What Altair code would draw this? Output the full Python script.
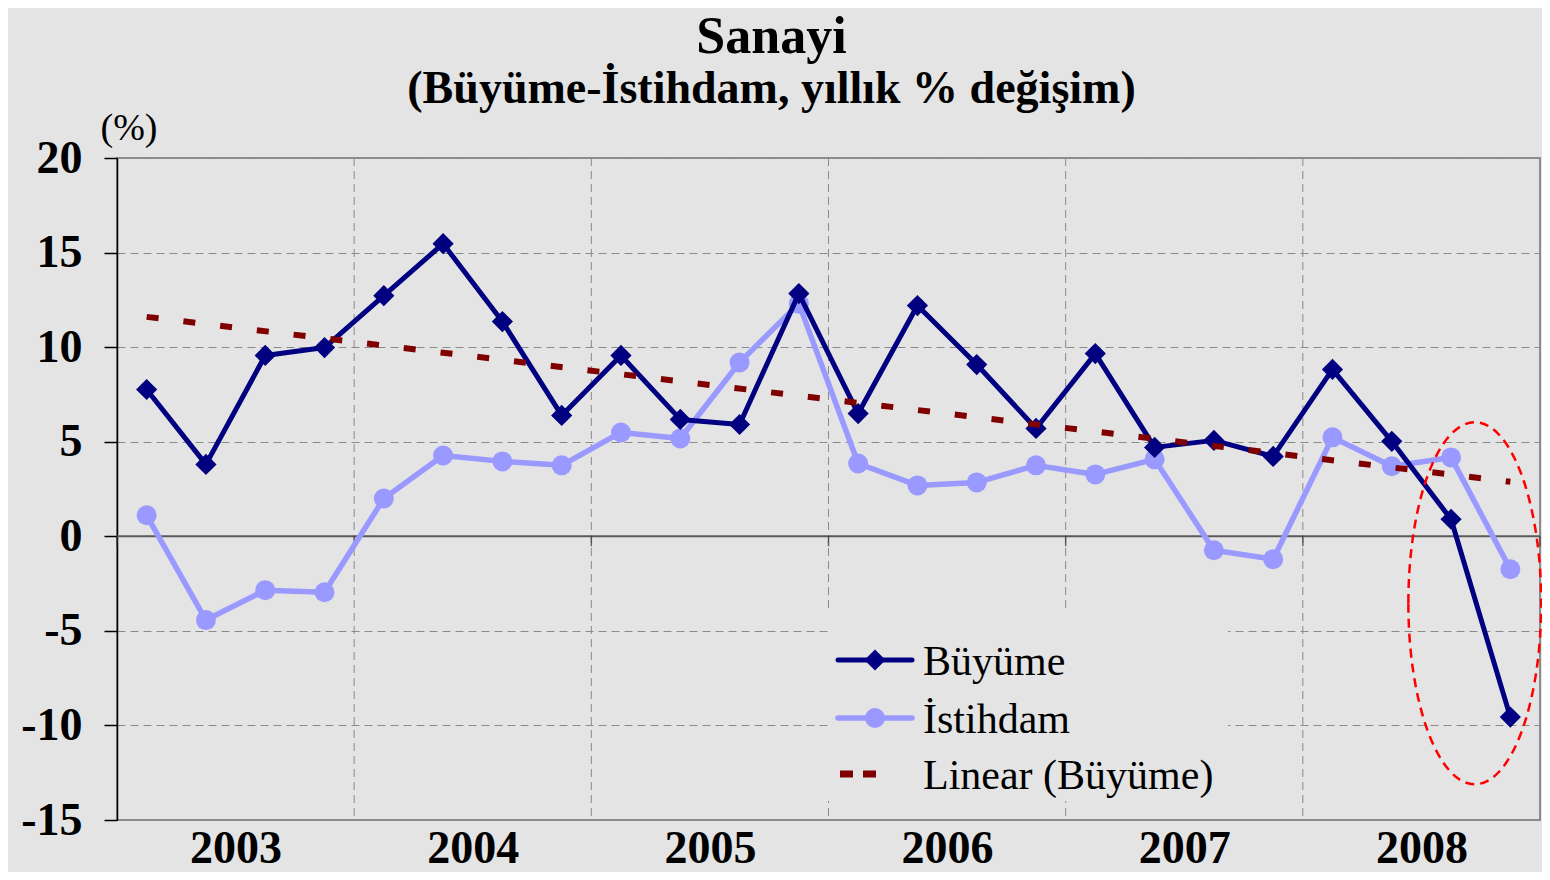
import altair as alt
import pandas as pd

# ---- data ----
quarters = list(range(1, 25))  # 2003Q1 .. 2008Q4
buyume = [7.76, 3.8, 9.56, 9.98, 12.72, 15.47, 11.35, 6.39, 9.56, 6.18, 5.91, 12.83,
          6.49, 12.2, 9.08, 5.7, 9.66, 4.7, 5.07, 4.22, 8.82, 5.02, 0.9, -9.56]
istihdam = [1.11, -4.43, -2.85, -2.96, 2.0, 4.27, 3.96, 3.75, 5.49, 5.17, 9.19, 12.3,
            3.85, 2.69, 2.85, 3.75, 3.27, 4.07, -0.74, -1.21, 5.23, 3.7, 4.17, -1.74]
years = [2003, 2004, 2005, 2006, 2007, 2008]
year_centers = [2.5, 6.5, 10.5, 14.5, 18.5, 22.5]
year_bounds = [4.5, 8.5, 12.5, 16.5, 20.5]
zero_ticks = [0.5, 4.5, 8.5, 12.5, 16.5, 20.5, 24.5]
y_ticks = [-15, -10, -5, 0, 5, 10, 15, 20]
series_names = ["Büyüme", "İstihdam", "Linear (Büyüme)"]
ellipse_center = {"q": 23.4, "v": -3.54}

NAVY = "#000080"
LILAC = "#9999ff"
DARKRED = "#800000"
BG = "#e4e4e4"
GRID = "#8a8a8a"
SERIF = "Liberation Serif"

W, H = 1423, 662

df_b = pd.DataFrame({"q": quarters, "v": buyume})
df_i = pd.DataFrame({"q": quarters, "v": istihdam})

xs = alt.Scale(domain=[0.5, 24.5], nice=False, zero=False)
ys = alt.Scale(domain=[-15, 20], nice=False, zero=False)

x_axis = alt.Axis(values=year_centers, grid=False, ticks=False, tickSize=0, domain=False,
                  labelExpr="'' + (2003 + (datum.value - 2.5) / 4)",
                  labelFont=SERIF, labelFontSize=46, labelFontWeight="bold", labelColor="black",
                  labelBaseline="alphabetic", labelPadding=42, title=None)
y_axis = alt.Axis(values=y_ticks, grid=True, gridColor=GRID, gridDash=[8, 5], gridWidth=1,
                  domain=True, domainColor="black", domainWidth=1.5,
                  ticks=True, tickSize=13, tickColor="black", tickWidth=1.5,
                  labelExpr="'' + datum.value",
                  labelFont=SERIF, labelFontSize=46, labelFontWeight="bold", labelColor="black",
                  labelPadding=22, labelBaseline="middle",
                  title="(%)", titleAngle=0, titleFont=SERIF, titleFontSize=38,
                  titleFontWeight="normal", titleColor="black", titleAlign="left",
                  titleBaseline="alphabetic", titleX=-17, titleY=-19)

base_x = alt.X("q:Q", scale=xs, axis=x_axis)
base_y = alt.Y("v:Q", scale=ys, axis=y_axis)

# vertical dashed gridlines at year boundaries
vgrid = alt.Chart(pd.DataFrame({"q": year_bounds})).mark_rule(
    color=GRID, strokeDash=[8, 5], strokeWidth=1
).encode(x=alt.X("q:Q", scale=xs))

# legend background (covers grid lines)
legend_bg = alt.Chart(pd.DataFrame({"a": [0]})).mark_rect(color=BG).encode(
    x=alt.value(711), x2=alt.value(1111), y=alt.value(452), y2=alt.value(643))

# zero line and its ticks
zero_line = alt.Chart(pd.DataFrame({"v": [0]})).mark_rule(color="#5a5a5a", strokeWidth=2).encode(
    y=alt.Y("v:Q", scale=ys))
zero_tk = alt.Chart(pd.DataFrame({"q": zero_ticks, "v": [0] * len(zero_ticks)})).mark_tick(
    orient="vertical", size=10, thickness=1.5, yOffset=5, color="#333333"
).encode(x=alt.X("q:Q", scale=xs), y=alt.Y("v:Q", scale=ys))

line_b = alt.Chart(df_b).mark_line(color=NAVY, strokeWidth=5, strokeJoin="round", strokeCap="round").encode(
    x=base_x, y=base_y)
pts_b = alt.Chart(df_b).mark_point(shape="diamond", filled=True, size=450, color=NAVY, opacity=1).encode(
    x=alt.X("q:Q", scale=xs), y=alt.Y("v:Q", scale=ys))
line_i = alt.Chart(df_i).mark_line(color=LILAC, strokeWidth=5.5, strokeJoin="round", strokeCap="round").encode(
    x=alt.X("q:Q", scale=xs), y=alt.Y("v:Q", scale=ys))
pts_i = alt.Chart(df_i).mark_point(shape="circle", filled=True, size=400, color=LILAC, opacity=1).encode(
    x=alt.X("q:Q", scale=xs), y=alt.Y("v:Q", scale=ys))

trend = alt.Chart(df_b).transform_regression("q", "v", method="linear").mark_line(
    color=DARKRED, strokeWidth=6, strokeDash=[12, 25], strokeCap="butt"
).encode(x=alt.X("q:Q", scale=xs), y=alt.Y("v:Q", scale=ys))

# red dashed ellipse annotation
ell_path = "M -0.367 0 A 0.367 1 0 1 1 0.367 0 A 0.367 1 0 1 1 -0.367 0 Z"
ellipse = alt.Chart(pd.DataFrame({"q": [ellipse_center["q"]], "v": [ellipse_center["v"]]})).mark_point(
    shape=ell_path, filled=False, color="#ff0000", strokeWidth=2.5, strokeDash=[9, 6], opacity=1,
    size=362 * 362
).encode(x=alt.X("q:Q", scale=xs), y=alt.Y("v:Q", scale=ys))

# manual legend
one = pd.DataFrame({"a": [0]})
leg_rows = [502, 560, 616]
leg = []
leg.append(alt.Chart(one).mark_rule(color=NAVY, strokeWidth=5, strokeCap="round").encode(
    x=alt.value(721), x2=alt.value(795), y=alt.value(leg_rows[0])))
leg.append(alt.Chart(one).mark_point(shape="diamond", filled=True, size=450, color=NAVY, opacity=1).encode(
    x=alt.value(758), y=alt.value(leg_rows[0])))
leg.append(alt.Chart(one).mark_rule(color=LILAC, strokeWidth=5.5, strokeCap="round").encode(
    x=alt.value(721), x2=alt.value(795), y=alt.value(leg_rows[1])))
leg.append(alt.Chart(one).mark_point(shape="circle", filled=True, size=400, color=LILAC, opacity=1).encode(
    x=alt.value(758), y=alt.value(leg_rows[1])))
leg.append(alt.Chart(one).mark_rule(color=DARKRED, strokeWidth=7, strokeDash=[13, 10]).encode(
    x=alt.value(723), x2=alt.value(760), y=alt.value(leg_rows[2])))
for name, yy in zip(series_names, leg_rows):
    leg.append(alt.Chart(one).mark_text(
        text=name, font=SERIF, fontSize=42, color="black", align="left", baseline="middle"
    ).encode(x=alt.value(806), y=alt.value(yy + 2)))

chart = alt.layer(
    vgrid, legend_bg, zero_line, zero_tk, line_i, pts_i, line_b, pts_b, trend, *leg, ellipse
).properties(
    width=W, height=H,
    autosize="none",
    padding={"left": 109, "top": 150, "right": 2, "bottom": 52},
    background=BG,
    title=alt.TitleParams(
        text="Sanayi",
        subtitle="(Büyüme-İstihdam, yıllık % değişim)",
        anchor="middle", dx=-57,
        font=SERIF, fontSize=52, fontWeight="bold", color="black",
        subtitleFont=SERIF, subtitleFontSize=46, subtitleFontWeight="bold", subtitleColor="black",
        subtitlePadding=3, offset=-4,
    ),
).configure_view(
    fill=BG, stroke="#8c8c8c", strokeWidth=2
)

chart.save("out.html", embed_options={"renderer": "svg", "actions": False})
